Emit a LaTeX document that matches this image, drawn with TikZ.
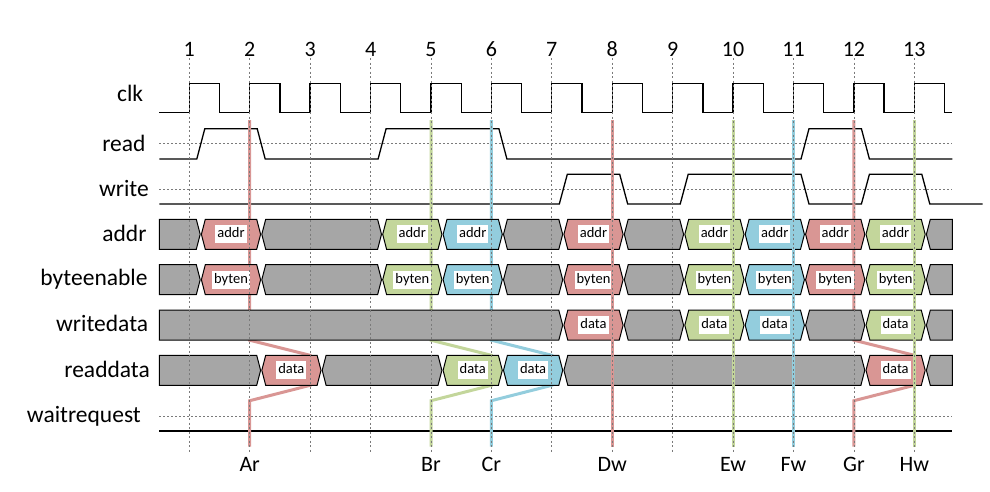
\documentclass[tikz,border=0pt]{standalone}
\usepackage{fontspec}
\setmainfont{Carlito}
\definecolor{cred}{HTML}{D99694}
\definecolor{cgreen}{HTML}{C3D69B}
\definecolor{cblue}{HTML}{93CDDD}
\definecolor{cgray}{HTML}{A6A6A6}
\definecolor{gridc}{HTML}{7A7A7A}
\tikzset{
  sig/.style={line width=1.3pt, line join=miter},
  busline/.style={line width=1pt, draw=black},
  midline/.style={draw=gridc, line width=0.8pt, dash pattern=on 2pt off 2pt},
  gridline/.style={draw=gridc, line width=0.8pt, dash pattern=on 2pt off 2.5pt},
  marker/.style={line width=3pt},
  lbl/.style={fill=white, inner xsep=2pt, inner ysep=2.5pt, text height=10pt, text depth=3pt, font=\fontsize{14.5}{16}\selectfont},
  rowlbl/.style={anchor=base east, inner sep=0pt, font=\fontsize{23.5}{28}\selectfont},
  axlbl/.style={anchor=base, inner sep=0pt, font=\fontsize{22}{26}\selectfont},
}
% #1 name, #2 fill, #3 y, #4 xa, #5 xb, #6 left slant, #7 right slant, #8 label
\newcommand\busseg[8]{%
  \draw[busline, fill=#2] ({#4+0.6*#6},#3) -- ({#4+4.5*#6},{#3-15}) -- ({#5-4.5*#7},{#3-15}) -- ({#5-0.6*#7},#3) -- ({#5-4.5*#7},{#3+15}) -- ({#4+4.5*#6},{#3+15}) -- cycle;
  \node[lbl] (#1) at ({(#4+#5)/2},#3) {#8};
}
% #1 y, #2 xa, #3 xb, #4 left slant, #5 right slant
\newcommand\grayseg[5]{%
  \draw[busline, fill=cgray] ({#2+0.6*#4},#1) -- ({#2+4.5*#4},{#1-15}) -- ({#3-4.5*#5},{#1-15}) -- ({#3-0.6*#5},#1) -- ({#3-4.5*#5},{#1+15}) -- ({#2+4.5*#4},{#1+15}) -- cycle;
}
\begin{document}
\begin{tikzpicture}[x=1pt,y=-1pt]
\useasboundingbox (0,0) rectangle (990,491);

% row labels
\node[rowlbl] (Lclk) at (143.3,101.7) {clk};
\node[rowlbl] (Lread) at (145.7,151.7) {read};
\node[rowlbl] (Lwrite) at (149,196.7) {write};
\node[rowlbl] (Laddr) at (146.7,241.7) {addr};
\node[rowlbl] (Lbyte) at (147.7,285.7) {byteenable};
\node[rowlbl] (Lwd) at (148.3,331.7) {writedata};
\node[rowlbl] (Lrd) at (150,377.7) {readdata};
\node[rowlbl] (Lwait) at (141,422.3) {waitrequest};

% numbers
\foreach \e/\n in {189.3/1,249.7/2,310.1/3,370.6/4,431.0/5,491.4/6,551.8/7,612.2/8,672.7/9,733.1/10,793.5/11,853.9/12,914.3/13}
  \node[axlbl] (num\n) at (\e,56) {\n};

% dashed mid lines
\draw[midline] (159.3,143.3) -- (952.3,143.3);
\draw[midline] (159.3,189.3) -- (952.3,189.3);
\draw[midline] (159.3,416.3) -- (952.3,416.3);

% clock
\draw[sig] (159.3,112.7) foreach \e in {189.3,249.7,310.1,370.6,431.0,491.4,551.8,612.2,672.7,733.1,793.5,853.9,914.3} { -- (\e,112.7) -- (\e,83.3) -- ({\e+30.2},83.3) -- ({\e+30.2},112.7) } -- (952.3,112.7);

% read
\draw[sig] (159.3,159) -- (196.8,159) -- (204.8,128.7) -- (257.2,128.7) -- (265.2,159)
  -- (378.1,159) -- (386.1,128.7) -- (498.9,128.7) -- (506.9,159)
  -- (801.0,159) -- (809.0,128.7) -- (861.4,128.7) -- (869.4,159) -- (952.3,159);

% write
\draw[sig] (159.3,204) -- (559.3,204) -- (567.3,174.3) -- (619.7,174.3) -- (627.7,204)
  -- (680.2,204) -- (688.2,174.3) -- (801.0,174.3) -- (809.0,204)
  -- (861.4,204) -- (869.4,174.3) -- (921.8,174.3) -- (929.8,204) -- (982.7,204);

% waitrequest
\draw[sig] (159.3,431) -- (952.3,431);

% read markers (behind the bus shapes)
\draw[marker, draw=cred] (249.7,120) -- (249.7,340.2) -- (310.1,355.3) -- (310.1,385.3) -- (249.7,400.7) -- (249.7,446.7);
\draw[marker, draw=cgreen] (431.0,120) -- (431.0,340.2) -- (491.4,355.3) -- (491.4,385.3) -- (431.0,400.7) -- (431.0,446.7);
\draw[marker, draw=cblue] (491.4,120) -- (491.4,340.2) -- (551.8,355.3) -- (551.8,385.3) -- (491.4,400.7) -- (491.4,446.7);
\draw[marker, draw=cred] (853.9,120) -- (853.9,340.2) -- (914.3,355.3) -- (914.3,385.3) -- (853.9,400.7) -- (853.9,446.7);

% addr
\grayseg{234.3}{159.3}{200.8}{0}{1}
\busseg{aA}{cred}{234.3}{200.8}{261.2}{1}{1}{addr}
\grayseg{234.3}{261.2}{382.1}{1}{1}
\busseg{aB}{cgreen}{234.3}{382.1}{442.5}{1}{1}{addr}
\busseg{aC}{cblue}{234.3}{442.5}{502.9}{1}{1}{addr}
\grayseg{234.3}{502.9}{563.3}{1}{1}
\busseg{aD}{cred}{234.3}{563.3}{623.7}{1}{1}{addr}
\grayseg{234.3}{623.7}{684.2}{1}{1}
\busseg{aE}{cgreen}{234.3}{684.2}{744.6}{1}{1}{addr}
\busseg{aF}{cblue}{234.3}{744.6}{805.0}{1}{1}{addr}
\busseg{aG}{cred}{234.3}{805.0}{865.4}{1}{1}{addr}
\busseg{aH}{cgreen}{234.3}{865.4}{925.8}{1}{1}{addr}
\grayseg{234.3}{925.8}{952.3}{1}{0}

% byteenable
\grayseg{279.7}{159.3}{200.8}{0}{1}
\busseg{bA}{cred}{279.7}{200.8}{261.2}{1}{1}{byten}
\grayseg{279.7}{261.2}{382.1}{1}{1}
\busseg{bB}{cgreen}{279.7}{382.1}{442.5}{1}{1}{byten}
\busseg{bC}{cblue}{279.7}{442.5}{502.9}{1}{1}{byten}
\grayseg{279.7}{502.9}{563.3}{1}{1}
\busseg{bD}{cred}{279.7}{563.3}{623.7}{1}{1}{byten}
\grayseg{279.7}{623.7}{684.2}{1}{1}
\busseg{bE}{cgreen}{279.7}{684.2}{744.6}{1}{1}{byten}
\busseg{bF}{cblue}{279.7}{744.6}{805.0}{1}{1}{byten}
\busseg{bG}{cred}{279.7}{805.0}{865.4}{1}{1}{byten}
\busseg{bH}{cgreen}{279.7}{865.4}{925.8}{1}{1}{byten}
\grayseg{279.7}{925.8}{952.3}{1}{0}

% writedata
\grayseg{325.2}{159.3}{563.3}{0}{1}
\busseg{wD}{cred}{325.2}{563.3}{623.7}{1}{1}{data}
\grayseg{325.2}{623.7}{684.2}{1}{1}
\busseg{wE}{cgreen}{325.2}{684.2}{744.6}{1}{1}{data}
\busseg{wF}{cblue}{325.2}{744.6}{805.0}{1}{1}{data}
\grayseg{325.2}{805.0}{865.4}{1}{1}
\busseg{wH}{cgreen}{325.2}{865.4}{925.8}{1}{1}{data}
\grayseg{325.2}{925.8}{952.3}{1}{0}

% readdata
\grayseg{370.3}{159.3}{261.2}{0}{1}
\busseg{rA}{cred}{370.3}{261.2}{321.6}{1}{1}{data}
\grayseg{370.3}{321.6}{442.5}{1}{1}
\busseg{rB}{cgreen}{370.3}{442.5}{502.9}{1}{1}{data}
\busseg{rC}{cblue}{370.3}{502.9}{563.3}{1}{1}{data}
\grayseg{370.3}{563.3}{865.4}{1}{1}
\busseg{rG}{cred}{370.3}{865.4}{925.8}{1}{1}{data}
\grayseg{370.3}{925.8}{952.3}{1}{0}

% write markers (on top)
\draw[marker, draw=cred] (612.2,120) -- (612.2,446.7);
\draw[marker, draw=cgreen] (733.1,120) -- (733.1,446.7);
\draw[marker, draw=cblue] (793.5,120) -- (793.5,446.7);
\draw[marker, draw=cgreen] (914.3,120) -- (914.3,446.7);

% grid lines
\foreach \e in {189.3,249.7,310.1,370.6,431.0,491.4,551.8,612.2,672.7,733.1,793.5,853.9,914.3}
  \draw[gridline] (\e,58) -- (\e,452);

% bottom labels
\node[axlbl] (mAr) at (249.7,471.7) {Ar};
\node[axlbl] (mBr) at (431.0,471.7) {Br};
\node[axlbl] (mCr) at (491.4,471.7) {Cr};
\node[axlbl] (mDw) at (612.2,471.7) {Dw};
\node[axlbl] (mEw) at (733.1,471.7) {Ew};
\node[axlbl] (mFw) at (793.5,471.7) {Fw};
\node[axlbl] (mGr) at (853.9,471.7) {Gr};
\node[axlbl] (mHw) at (914.3,471.7) {Hw};
\end{tikzpicture}
\end{document}
